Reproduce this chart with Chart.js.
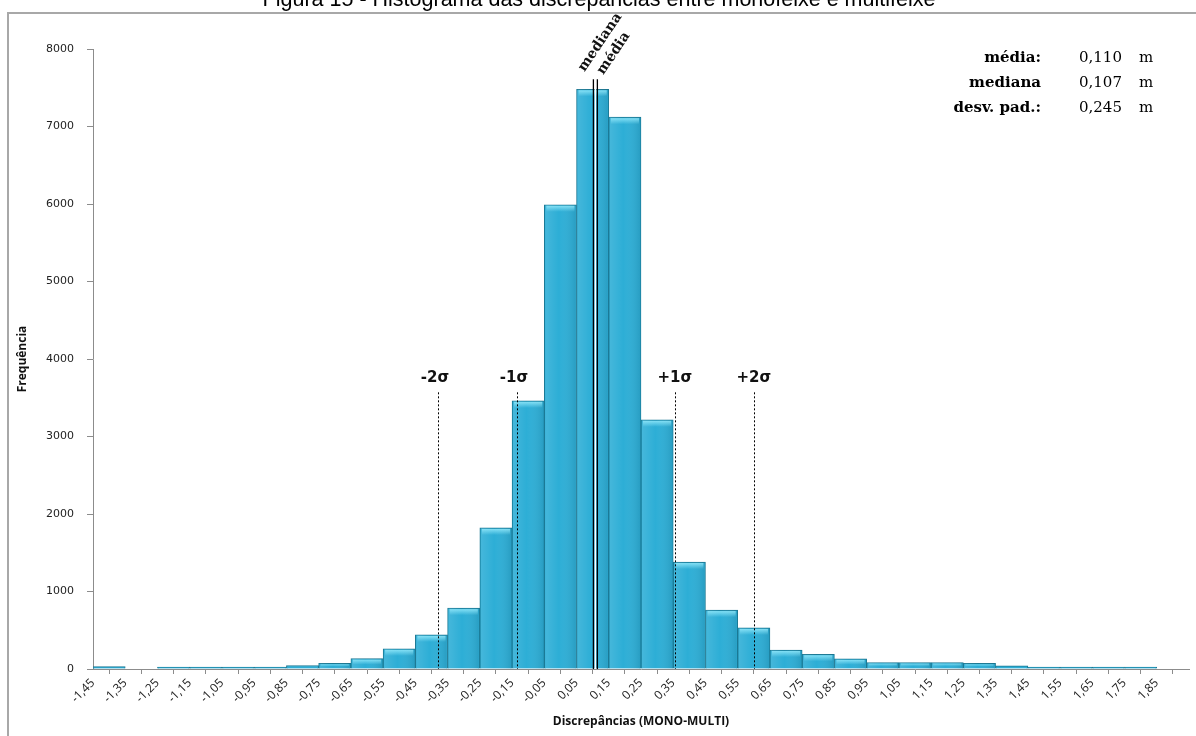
<!DOCTYPE html>
<html>
<head>
<meta charset="utf-8">
<script src="https://cdn.jsdelivr.net/npm/chart.js@4.4.1/dist/chart.umd.min.js"></script>
<style>
  html, body { margin: 0; padding: 0; background: #fff; }
</style>
</head>
<body>
<canvas id="histChart" width="1196" height="736"></canvas>
<script>
// bin edges (m): each bar covers binEdges[i] .. binEdges[i+1]
const binEdges = [-1.45, -1.35, -1.25, -1.15, -1.05, -0.95, -0.85, -0.75, -0.65, -0.55,
  -0.45, -0.35, -0.25, -0.15, -0.05, 0.05, 0.15, 0.25, 0.35, 0.45, 0.55, 0.65, 0.75,
  0.85, 0.95, 1.05, 1.15, 1.25, 1.35, 1.45, 1.55, 1.65, 1.75, 1.85, 1.95];
const tickLabels = ['-1,45', '-1,35', '-1,25', '-1,15', '-1,05', '-0,95', '-0,85', '-0,75',
  '-0,65', '-0,55', '-0,45', '-0,35', '-0,25', '-0,15', '-0,05', '0,05', '0,15', '0,25',
  '0,35', '0,45', '0,55', '0,65', '0,75', '0,85', '0,95', '1,05', '1,15', '1,25', '1,35',
  '1,45', '1,55', '1,65', '1,75', '1,85', ''];
const frequencies = [30, 0, 25, 25, 25, 25, 45, 73, 133, 260, 440, 785, 1820, 3460, 5990,
  7480, 7120, 3215, 1380, 760, 530, 245, 190, 130, 83, 83, 83, 72, 40, 25, 25, 25, 25, 0];

// statistics (m)
const media = 0.110;
const mediana = 0.107;
const desvPad = 0.245;
const sigmaSteps = [-2, -1, 1, 2];
const sigmaLabels = ['-2σ', '-1σ', '+1σ', '+2σ'];

const statLabels = ['média:', 'mediana', 'desv. pad.:'];
const statValues = [media, mediana, desvPad];

const titleText = 'Figura 15 - Histograma das discrepâncias entre monofeixe e multifeixe';

const points = frequencies.map((f, i) => ({ x: (binEdges[i] + binEdges[i + 1]) / 2, y: f }));
const fmt = v => v.toFixed(3).replace('.', ',');

const overlays = {
  id: 'overlays',
  afterDatasetsDraw(chart) {
    const { ctx, scales: { x, y } } = chart;
    ctx.save();
    // 3d-ish shading on each bar
    chart.getDatasetMeta(0).data.forEach(bar => {
      const p = bar.getProps(['x', 'y', 'base', 'width'], true);
      const h = p.base - p.y;
      if (h < 3) return;
      const l = p.x - p.width / 2, r = p.x + p.width / 2;
      const g = ctx.createLinearGradient(l, 0, r, 0);
      g.addColorStop(0, 'rgba(255,255,255,0.12)');
      g.addColorStop(0.45, 'rgba(255,255,255,0)');
      g.addColorStop(1, 'rgba(0,50,70,0.15)');
      ctx.fillStyle = g;
      ctx.fillRect(l + 1, p.y, p.width - 2, h);
      const bh = Math.min(7, h * 0.6);
      const tg = ctx.createLinearGradient(0, p.y, 0, p.y + bh);
      tg.addColorStop(0, 'rgba(150,235,252,0.95)');
      tg.addColorStop(1, 'rgba(150,235,252,0)');
      ctx.fillStyle = tg;
      ctx.fillRect(l + 2, p.y + 1, p.width - 4, bh);
    });

    const base = y.getPixelForValue(0);

    // sigma lines
    ctx.strokeStyle = '#000';
    ctx.lineWidth = 1;
    ctx.setLineDash([2, 2]);
    const sTop = y.getPixelForValue(3570);
    sigmaSteps.forEach(k => {
      const px = Math.round(x.getPixelForValue(media + k * desvPad)) + 0.5;
      ctx.beginPath();
      ctx.moveTo(px, sTop);
      ctx.lineTo(px, base);
      ctx.stroke();
    });
    ctx.setLineDash([]);
    ctx.fillStyle = '#111';
    ctx.font = 'bold 15px "DejaVu Sans"';
    ctx.textAlign = 'center';
    ctx.textBaseline = 'middle';
    sigmaSteps.forEach((k, i) => {
      const px = x.getPixelForValue(media + k * desvPad);
      ctx.fillText(sigmaLabels[i], px - (k < 0 ? 3 : 0), y.getPixelForValue(3750));
    });

    // mean / median double line
    const mTop = y.getPixelForValue(7610);
    const pMed = x.getPixelForValue(mediana) - 1.5;
    const pMean = x.getPixelForValue(media) + 1.5;
    ctx.strokeStyle = '#fff';
    ctx.lineWidth = 1.5;
    ctx.beginPath();
    ctx.moveTo((pMed + pMean) / 2, mTop);
    ctx.lineTo((pMed + pMean) / 2, base);
    ctx.stroke();
    ctx.strokeStyle = '#000';
    ctx.lineWidth = 1.3;
    [pMed, pMean].forEach(px => {
      ctx.beginPath();
      ctx.moveTo(px, mTop);
      ctx.lineTo(px, base);
      ctx.stroke();
    });

    ctx.font = 'bold 14px "DejaVu Serif"';
    ctx.textAlign = 'left';
    ctx.textBaseline = 'alphabetic';
    [['mediana', pMed - 9, mTop - 7], ['média', pMean + 6, mTop - 4]].forEach(([t, tx, ty]) => {
      ctx.save();
      ctx.translate(tx, ty);
      ctx.rotate(-56 * Math.PI / 180);
      ctx.fillText(t, 0, 0);
      ctx.restore();
    });
    ctx.restore();
  },
  afterDraw(chart) {
    const ctx = chart.ctx;
    ctx.save();
    // outer frame
    ctx.strokeStyle = '#a8a8a8';
    ctx.lineWidth = 2;
    ctx.strokeRect(8, 13, 1400, 900);
    // cut-off caption
    ctx.fillStyle = '#000';
    ctx.font = '21.5px "Liberation Sans"';
    ctx.textAlign = 'center';
    ctx.textBaseline = 'alphabetic';
    ctx.fillText(titleText, 599, 6);
    // statistics box
    ctx.textBaseline = 'middle';
    statLabels.forEach((t, i) => {
      const ty = 58 + i * 25;
      ctx.font = 'bold 15px "DejaVu Serif"';
      ctx.textAlign = 'right';
      ctx.fillText(t, 1041, ty);
      ctx.font = '15px "DejaVu Serif"';
      ctx.textAlign = 'left';
      ctx.fillText(fmt(statValues[i]), 1079, ty);
      ctx.fillText('m', 1139, ty);
    });
    ctx.restore();
  }
};

const axisColor = '#8c8c8c';

new Chart(document.getElementById('histChart').getContext('2d'), {
  type: 'bar',
  data: {
    datasets: [{
      label: 'Frequência',
      data: points,
      backgroundColor: '#2daed6',
      borderColor: '#1b7893',
      borderWidth: 1,
      barPercentage: 1,
      categoryPercentage: 1
    }]
  },
  options: {
    responsive: false,
    animation: false,
    layout: { padding: { top: 49, right: 7, left: 0, bottom: 0 } },
    plugins: {
      legend: { display: false },
      title: { display: false },
      tooltip: { enabled: false }
    },
    scales: {
      x: {
        type: 'linear',
        offset: false,
        min: binEdges[0],
        max: binEdges[binEdges.length - 1],
        afterBuildTicks: s => { s.ticks = binEdges.map(v => ({ value: v })); },
        afterFit: s => { s.height = 67; s.paddingRight = 0; },
        ticks: {
          autoSkip: false,
          minRotation: 45,
          maxRotation: 45,
          padding: 2,
          color: '#222',
          font: { family: 'Open Sans', size: 12 },
          callback: (v, i) => tickLabels[i]
        },
        grid: { drawOnChartArea: false, drawTicks: true, tickLength: 5, color: axisColor },
        border: { color: axisColor, width: 1 },
        title: {
          display: true,
          text: 'Discrepâncias (MONO-MULTI)',
          color: '#111',
          font: { family: 'Open Sans', size: 12, weight: 'bold' },
          padding: { top: 0, bottom: 7 }
        }
      },
      y: {
        min: 0,
        max: 8000,
        afterFit: s => { s.width = 93; },
        ticks: {
          stepSize: 1000,
          padding: 13,
          color: '#222',
          font: { family: 'DejaVu Sans', size: 11 },
          callback: v => String(v)
        },
        grid: { drawOnChartArea: false, drawTicks: true, tickLength: 6, color: axisColor },
        border: { color: axisColor, width: 1 },
        title: {
          display: true,
          text: 'Frequência',
          color: '#111',
          font: { family: 'Open Sans', size: 12, weight: 'bold' },
          padding: { top: 15, bottom: 0 }
        }
      }
    }
  },
  plugins: [overlays]
});
</script>
</body>
</html>
